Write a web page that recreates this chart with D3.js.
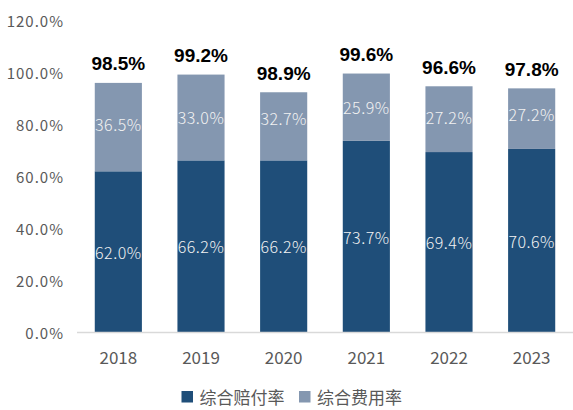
<!DOCTYPE html>
<html>
<head>
<meta charset="utf-8">
<script src="https://cdn.jsdelivr.net/npm/d3@7"></script>
<style>
  html, body { margin: 0; padding: 0; background: #ffffff; }
  svg { display: block; }
</style>
</head>
<body>
<svg id="chart" width="573" height="410"></svg>
<script>
// ---- data ----
const years = ["2018", "2019", "2020", "2021", "2022", "2023"];
// 综合赔付率 (dark segment)
const lossRatio = [62.0, 66.2, 66.2, 73.7, 69.4, 70.6];
// 综合费用率 as printed
const expenseRatioLabel = [36.5, 33.0, 32.7, 25.9, 27.2, 27.2];
// 综合费用率 segment height as drawn in the picture
const expenseRatioDrawn = [34.0, 33.0, 26.2, 25.9, 25.3, 23.3];
// 综合成本率 totals as printed
const totalLabel = [98.5, 99.2, 98.9, 99.6, 96.6, 97.8];
const yTicks = [0, 20, 40, 60, 80, 100, 120];
const seriesNames = ["综合赔付率", "综合费用率"];
const colors = ["#1F4E79", "#8497B0"];

// ---- layout ----
const svg = d3.select("#chart");
const y = d3.scaleLinear().domain([0, 120]).range([332.5, 20.5]);
const x = d3.scaleBand().domain(years).range([77, 573])
  .paddingInner(0.43).paddingOuter(0.215);

const numFont = "'Noto Sans CJK SC', 'Noto Sans', sans-serif";

// y tick labels
svg.append("g").selectAll("text").data(yTicks).join("text")
  .attr("x", 64)
  .attr("y", d => y(d))
  .attr("text-anchor", "end")
  .attr("dominant-baseline", "central")
  .attr("font-family", numFont)
  .attr("font-size", 15)
  .attr("letter-spacing", 1)
  .attr("fill", "#595959")
  .text(d => d.toFixed(1) + "%");

// bars
const rows = years.map((yr, i) => ({
  year: yr, loss: lossRatio[i], exp: expenseRatioDrawn[i],
  expLabel: expenseRatioLabel[i], total: totalLabel[i]
}));

const g = svg.append("g");
g.selectAll("rect.loss").data(rows).join("rect")
  .attr("class", "loss")
  .attr("x", d => x(d.year))
  .attr("width", x.bandwidth())
  .attr("y", d => y(d.loss))
  .attr("height", d => y(0) - y(d.loss))
  .attr("fill", colors[0]);

g.selectAll("rect.exp").data(rows).join("rect")
  .attr("class", "exp")
  .attr("x", d => x(d.year))
  .attr("width", x.bandwidth())
  .attr("y", d => y(d.loss + d.exp))
  .attr("height", d => y(d.loss) - y(d.loss + d.exp))
  .attr("fill", colors[1]);

// axis line
svg.append("line")
  .attr("x1", 77).attr("x2", 573)
  .attr("y1", y(0)).attr("y2", y(0))
  .attr("stroke", "#d9d9d9").attr("stroke-width", 1.5);

// x labels
svg.append("g").selectAll("text").data(years).join("text")
  .attr("x", d => x(d) + x.bandwidth() / 2)
  .attr("y", 356)
  .attr("text-anchor", "middle")
  .attr("dominant-baseline", "central")
  .attr("font-family", numFont)
  .attr("font-size", 17)
  .attr("fill", "#595959")
  .text(d => d);

// segment labels
g.selectAll("text.lossLbl").data(rows).join("text")
  .attr("class", "lossLbl")
  .attr("x", d => x(d.year) + x.bandwidth() / 2)
  .attr("y", d => (y(0) + y(d.loss)) / 2)
  .attr("text-anchor", "middle")
  .attr("dominant-baseline", "central")
  .attr("font-family", numFont)
  .attr("font-weight", 300)
  .attr("font-size", 16)
  .attr("letter-spacing", 0.5)
  .attr("fill", "#f2f2f2")
  .text(d => d.loss.toFixed(1) + "%");

g.selectAll("text.expLbl").data(rows).join("text")
  .attr("class", "expLbl")
  .attr("x", d => x(d.year) + x.bandwidth() / 2)
  .attr("y", d => (y(d.loss) + y(d.loss + d.expLabel)) / 2)
  .attr("text-anchor", "middle")
  .attr("dominant-baseline", "central")
  .attr("font-family", numFont)
  .attr("font-weight", 300)
  .attr("font-size", 16)
  .attr("letter-spacing", 0.5)
  .attr("fill", "#f2f2f2")
  .text(d => d.expLabel.toFixed(1) + "%");

// total labels
g.selectAll("text.totLbl").data(rows).join("text")
  .attr("class", "totLbl")
  .attr("x", d => x(d.year) + x.bandwidth() / 2)
  .attr("y", d => y(d.loss + d.exp) - 19)
  .attr("text-anchor", "middle")
  .attr("dominant-baseline", "central")
  .attr("font-family", "'Liberation Sans', Arial, sans-serif")
  .attr("font-weight", "bold")
  .attr("font-size", 19)
  .attr("fill", "#000000")
  .text(d => d.total.toFixed(1) + "%");

// legend
const legend = svg.append("g");
const legendX = [181.5, 299];
seriesNames.forEach((name, i) => {
  legend.append("rect")
    .attr("x", legendX[i]).attr("y", 391)
    .attr("width", 11.5).attr("height", 11.5)
    .attr("fill", colors[i]);
  legend.append("text")
    .attr("x", legendX[i] + 18).attr("y", 396.5)
    .attr("dominant-baseline", "central")
    .attr("font-family", "'Noto Sans CJK SC', sans-serif")
    .attr("font-size", 17)
    .attr("fill", "#595959")
    .text(name);
});
</script>
</body>
</html>
